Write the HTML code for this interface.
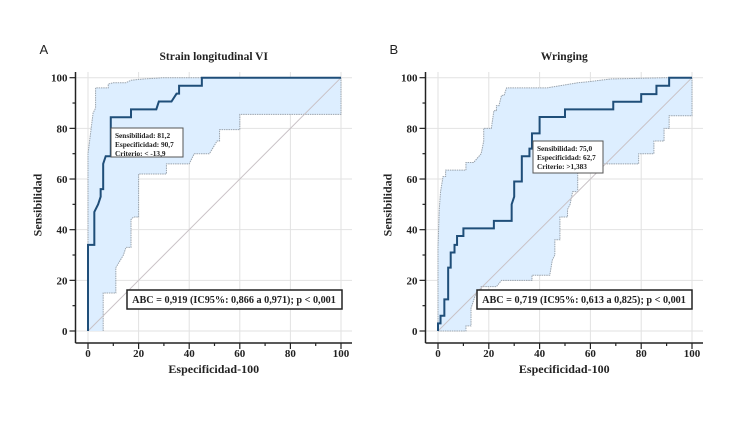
<!DOCTYPE html>
<html><head><meta charset="utf-8"><style>
body{margin:0;background:#fff;width:750px;height:422px;overflow:hidden}
svg text{font-family:"Liberation Serif",serif;font-weight:bold;fill:#222}
</style></head><body>
<svg id="s" width="750" height="422" xmlns="http://www.w3.org/2000/svg"></svg>
<script>
const ticks=[0,20,40,60,80,100];
const rocA=[[0,0],[0,34],[2.5,34],[2.5,47],[4,50],[5,53],[5,56],[6,56],[6,66],[7,69],[9,69],[9,84.4],[17,84.4],[17,87.5],[27,87.5],[28,90.6],[33,90.6],[35,93.7],[36,93.7],[36,96.8],[45,96.8],[45,100],[100,100]];
const upperA=[[0,34],[0,70],[1,78],[2,86],[3,88],[3,96],[8,96],[8,97.5],[10,98],[15,98],[17,99],[22,99.5],[30,100],[100,100]];
const lowerA=[[6,0],[6,15],[11,15],[11,25],[14,30],[15,33],[17,33],[17,44],[18,45],[20,45],[20,62],[31,62],[31,66],[40,66],[42,70],[48,70],[51,75],[52,75],[52,79.5],[60,79.5],[60,85.5],[100,85.5],[100,100]];
const rocB=[[0,0],[0,3],[1,3],[1,6],[2.5,6],[2.5,12.5],[4,12.5],[4,25],[5,25],[5,31],[6.5,31],[6.5,34],[7.5,34],[7.5,37.5],[10,37.5],[10,40.5],[22,40.5],[22,43.5],[29,43.5],[29,50],[30,53],[30,59],[33,59],[33,69],[36,69],[36,72],[37,72],[37,78],[40,78],[40,84.5],[50,84.5],[50,87.5],[69,87.5],[69,90.5],[80,90.5],[80,93.5],[86,93.5],[86,96.8],[91,96.8],[91,100],[100,100]];
const upperB=[[0,0],[0,33],[0.5,48],[1,55],[1.5,58],[2,61],[3,61],[3,63.5],[11,63.5],[11,66.5],[14,66.5],[17,70],[18,75],[18,80],[21,80],[22,87],[23,87],[23,89],[24,89],[25,93],[26,93],[27,96],[43,96],[55,98],[60,98.5],[68,99.5],[90,100],[100,100]];
const lowerB=[[0,0],[11,0],[11,2],[13,2],[13,9],[15,15],[17,15],[17,17.5],[23,17.5],[25,20],[37,20],[37,22],[44,22],[45,28],[46,30],[46,36],[48,36],[48,45],[51,45],[51,48],[52,50],[53,55],[55,55],[55,66],[79,66],[79,70],[85,70],[85,75],[89,75],[89,80],[91,80],[91,85],[100,85],[100,100]];
const NS="http://www.w3.org/2000/svg",svg=document.getElementById('s');
function mk(tag,at,parent,txt){const e=document.createElementNS(NS,tag);for(const k in at)e.setAttribute(k,at[k]);if(txt!==undefined)e.textContent=txt;(parent||svg).appendChild(e);return e;}
function panel(o){
  const g=mk('g',{});
  
  
  const X=v=>o.x0+(o.x1-o.x0)*v/100, Y=v=>331-(331-77.7)*v/100;
  const L=o.x0-12.5,B=343;
  mk('rect',{x:L,y:72,width:o.x1+11-L,height:B-72,fill:'#fff'},g);
  ticks.forEach(t=>{
    const gx=mk('line',{x1:X(t),x2:X(t),y1:72,y2:B,stroke:'#e2e2e2','stroke-width':1},g);
    
    mk('line',{x1:L,x2:o.x1+11,y1:Y(t),y2:Y(t),stroke:'#e2e2e2','stroke-width':1},g);
  });
  const up=o.upper.map(p=>X(p[0])+','+Y(p[1]));
  const lo=o.lower.slice().reverse().map(p=>X(p[0])+','+Y(p[1]));
  const ci=mk('polygon',{points:[X(0)+','+Y(0)].concat(up,lo).join(' '),fill:'#ddeeff',stroke:'none'},g);
  
  const st=pts=>pts.map(p=>X(p[0])+','+Y(p[1])).join(' ');
  const u=mk('polyline',{points:st(o.upper),fill:'none',stroke:'#9aa4ae','stroke-width':1,'stroke-dasharray':'1.5,0.8'},g);
  
  const l=mk('polyline',{points:st(o.lower),fill:'none',stroke:'#9aa4ae','stroke-width':1,'stroke-dasharray':'1.5,0.8'},g);
  
  const d=mk('line',{x1:X(0),y1:Y(0),x2:X(100),y2:Y(100),stroke:'#c9c2c6','stroke-width':1},g);
  
  const r=mk('polyline',{points:st(o.roc),fill:'none',stroke:'#1f4e79','stroke-width':2},g);
  
  mk('line',{x1:L,x2:L,y1:72,y2:B,stroke:'#222','stroke-width':1.5},g);
  mk('line',{x1:L,x2:o.x1+11,y1:B,y2:B,stroke:'#222','stroke-width':1.5},g);
  for(let t=0;t<=100;t+=10){
    const big=t%20===0;
    mk('line',{x1:L-(big?6:3),x2:L,y1:Y(t),y2:Y(t),stroke:'#222','stroke-width':1.2},g);
    mk('line',{x1:X(t),x2:X(t),y1:B,y2:B+(big?6:3),stroke:'#222','stroke-width':1.2},g);
  }
  ticks.forEach(t=>{
    const a=mk('text',{x:L-8,y:Y(t)+4,'text-anchor':'end','font-size':11},g,t);
    
    const b=mk('text',{x:X(t),y:357,'text-anchor':'middle','font-size':11},g,t);
    
  });
  const tt=mk('text',{x:(L+o.x1+11)/2,y:60,'text-anchor':'middle','font-size':11.5},g,o.title);
  
  const pl=mk('text',{x:L-36,y:54,'font-size':13,style:'font-family:"Liberation Sans",sans-serif;font-weight:normal'},g,o.id);
  
  const xl=mk('text',{x:(L+o.x1+11)/2,y:373,'text-anchor':'middle','font-size':12},g,'Especificidad-100');
  
  const yl=mk('text',{x:0,y:0,'text-anchor':'middle','font-size':12,transform:`translate(${L-34},205) rotate(-90)`},g,'Sensibilidad');
  
  const bx=o.box;
  const bg=mk('g',{},g);
  mk('rect',{x:bx[0],y:bx[1],width:bx[2],height:bx[3],fill:'#fff',stroke:'#555','stroke-width':1},bg);
  o.lines.forEach((s,i)=>mk('text',{x:bx[0]+4,y:bx[1]+10+i*9,'font-size':7.3},bg,s));
  const ab=mk('g',{},g);
  mk('rect',{x:o.abc[0],y:290,width:215,height:19,fill:'#fff',stroke:'#222','stroke-width':1.5},ab);
  mk('text',{x:o.abc[0]+107,y:303,'text-anchor':'middle','font-size':10.2},ab,o.abcText);
}
panel({id:'A',x0:88,x1:341,title:'Strain longitudinal VI',roc:rocA,upper:upperA,lower:lowerA,box:[111,128,72,29],
  lines:['Sensibilidad: 81,2','Especificidad: 90,7','Criterio: < -13,9'],abc:[127],abcText:'ABC = 0,919 (IC95%: 0,866 a 0,971); p < 0,001'});
panel({id:'B',x0:438,x1:692,title:'Wringing',roc:rocB,upper:upperB,lower:lowerB,box:[533,141,70,32],
  lines:['Sensibilidad: 75,0','Especificidad: 62,7','Criterio: >1,383'],abc:[477],abcText:'ABC = 0,719 (IC95%: 0,613 a 0,825); p < 0,001'});
</script>
</body></html>
